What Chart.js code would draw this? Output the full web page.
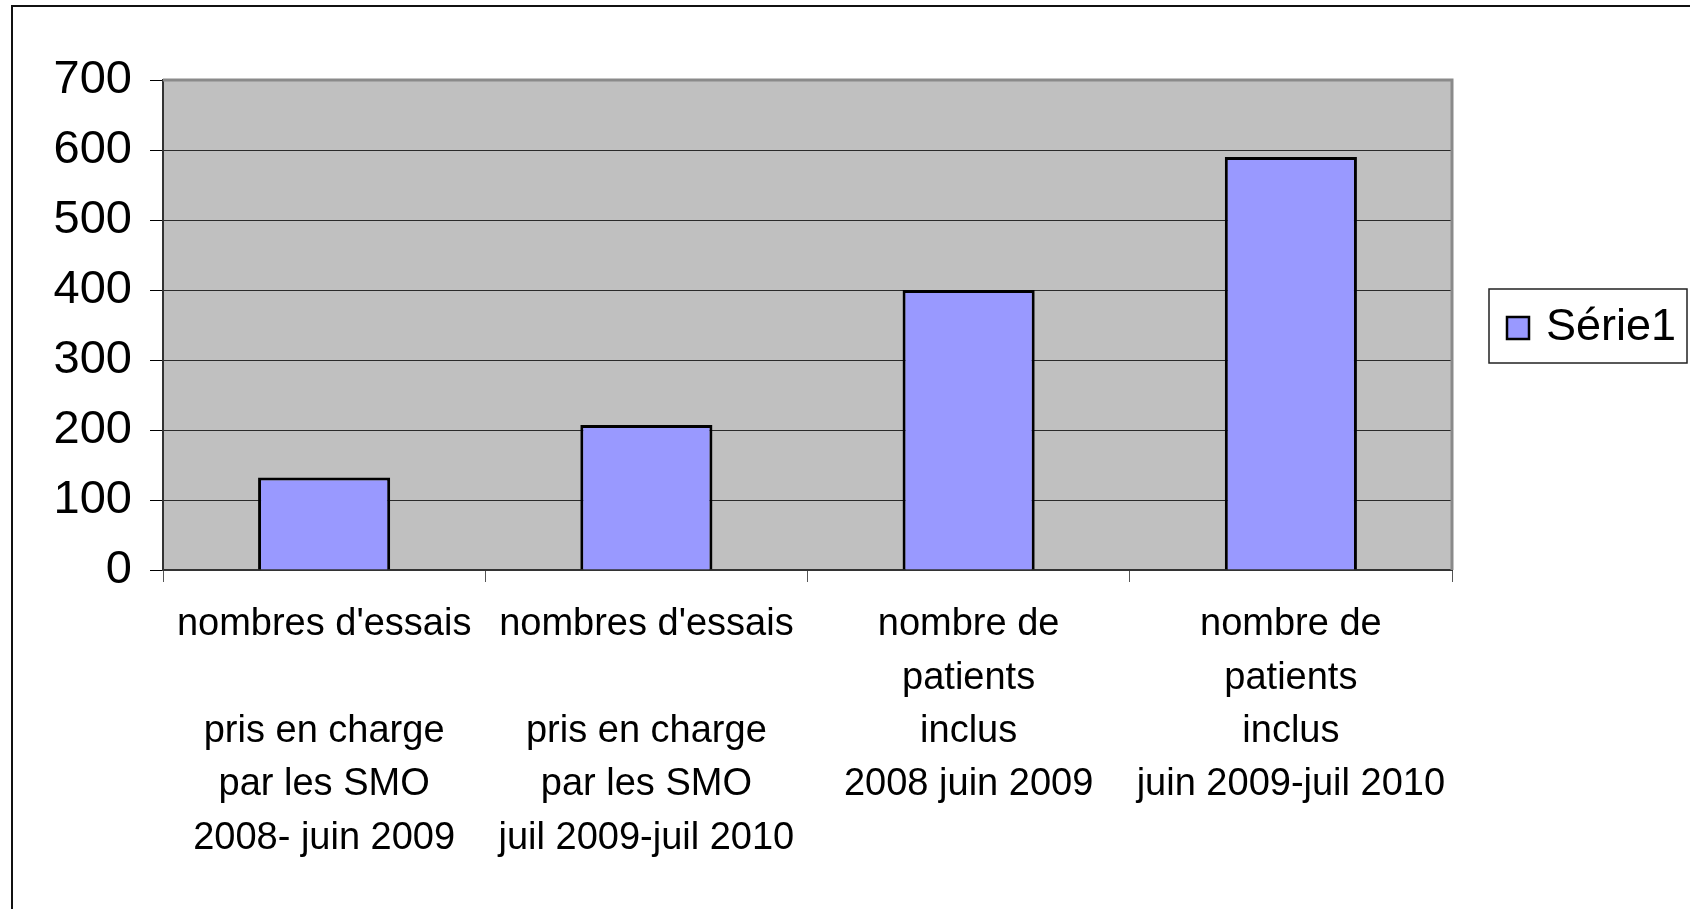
<!DOCTYPE html>
<html>
<head>
<meta charset="utf-8">
<script src="https://cdn.jsdelivr.net/npm/chart.js@4/dist/chart.umd.min.js"></script>
<style>
  html, body { margin: 0; padding: 0; background: #fff; }
  #wrap { width: 1690px; height: 909px; }
</style>
</head>
<body>
<div id="wrap"><canvas id="graphique"></canvas></div>
<script>
// données du graphique
var categories = [
    ["nombres d'essais", "", "pris en charge", "par les SMO", "2008- juin 2009"],
    ["nombres d'essais", "", "pris en charge", "par les SMO", "juil 2009-juil 2010"],
    ["nombre de", "patients", "inclus", "2008 juin 2009"],
    ["nombre de", "patients", "inclus", "juin 2009-juil 2010"]
];
var serie1 = [132, 207, 400, 590];
var nomSerie = 'Série1';
var yMin = 0, yMax = 700, yPas = 100;

var police = "'Liberation Sans', Arial, sans-serif";

// fond gris de la zone de tracé + cadre extérieur
var fondPlugin = {
    id: 'fond',
    beforeDraw: function (chart) {
        var ctx = chart.ctx, a = chart.chartArea;
        ctx.save();
        ctx.fillStyle = '#fff';
        ctx.fillRect(0, 0, chart.width, chart.height);
        ctx.fillStyle = '#C0C0C0';
        ctx.fillRect(a.left, a.top, a.right - a.left, a.bottom - a.top);
        // cadre (seuls le haut et la gauche sont visibles)
        ctx.strokeStyle = '#111';
        ctx.lineWidth = 2;
        ctx.beginPath();
        ctx.moveTo(chart.width, 6);
        ctx.lineTo(12, 6);
        ctx.lineTo(12, chart.height);
        ctx.stroke();
        ctx.restore();
    },
    afterDatasetsDraw: function (chart) {
        var ctx = chart.ctx, a = chart.chartArea;
        ctx.save();
        ctx.strokeStyle = '#8a8a8a';
        ctx.lineWidth = 3;
        ctx.beginPath();
        ctx.moveTo(a.left, a.top);
        ctx.lineTo(a.right, a.top);
        ctx.lineTo(a.right, a.bottom);
        ctx.stroke();
        ctx.restore();
    },
    afterDraw: function (chart) {
        // légende encadrée à droite
        var ctx = chart.ctx;
        var ds = chart.data.datasets[0];
        ctx.save();
        ctx.fillStyle = '#fff';
        ctx.fillRect(1489, 289, 198, 74);
        ctx.strokeStyle = '#222';
        ctx.lineWidth = 1.5;
        ctx.strokeRect(1489, 289, 198, 74);
        ctx.fillStyle = ds.backgroundColor;
        ctx.fillRect(1507, 317, 22, 22);
        ctx.strokeStyle = '#000';
        ctx.lineWidth = 2.5;
        ctx.strokeRect(1507, 317, 22, 22);
        ctx.fillStyle = '#000';
        ctx.font = '45px ' + police;
        ctx.textBaseline = 'alphabetic';
        ctx.fillText(ds.label, 1546, 340);
        ctx.restore();
    }
};

var ctx = document.getElementById('graphique').getContext('2d');
var monGraphique = new Chart(ctx, {
    type: 'bar',
    data: {
        labels: categories,
        datasets: [{
            label: nomSerie,
            data: serie1,
            backgroundColor: '#9999FF',
            borderColor: '#000',
            borderWidth: 3,
            barPercentage: 0.41,
            categoryPercentage: 1.0
        }]
    },
    options: {
        responsive: true,
        maintainAspectRatio: false,
        animation: false,
        layout: { padding: { top: 80, right: 238, left: 0, bottom: 0 } },
        plugins: {
            legend: { display: false },
            tooltip: { enabled: false }
        },
        scales: {
            x: {
                grid: {
                    drawOnChartArea: false,
                    drawTicks: true,
                    tickLength: 12,
                    tickColor: '#555',
                    offset: true
                },
                border: { color: '#333', width: 2 },
                ticks: {
                    color: '#000',
                    maxRotation: 0,
                    autoSkip: false,
                    padding: 16,
                    font: { family: police, size: 38, lineHeight: 1.405 }
                },
                afterFit: function (scale) { scale.height = 339; }
            },
            y: {
                min: yMin,
                max: yMax,
                grid: {
                    color: '#2a2a2a',
                    lineWidth: 1,
                    tickLength: 13,
                    tickColor: '#000'
                },
                border: { color: '#333', width: 2 },
                ticks: {
                    stepSize: yPas,
                    color: '#000',
                    padding: 18,
                    font: { family: police, size: 47 }
                },
                afterFit: function (scale) { scale.width = 163; }
            }
        }
    },
    plugins: [fondPlugin]
});
</script>
</body>
</html>
